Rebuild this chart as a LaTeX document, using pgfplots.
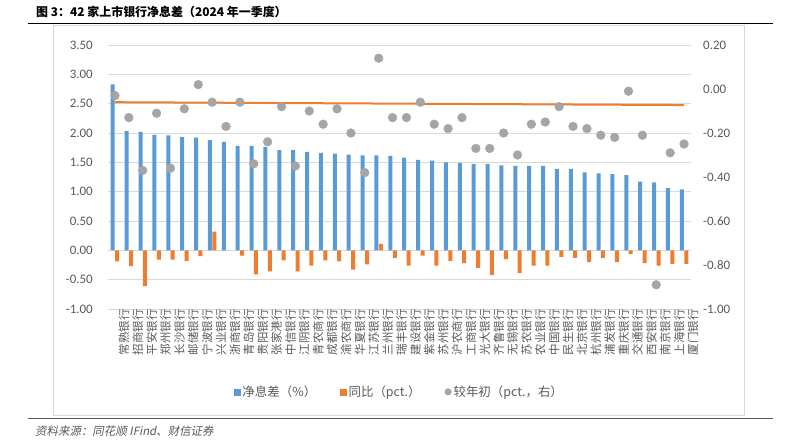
\documentclass[border=0pt]{standalone}
\usepackage{pgfplots}
\pgfplotsset{compat=1.18}
\usepackage{fontspec}
\setmainfont{Carlito}
\newfontfamily\cjk{Noto Sans CJK SC}
\newfontfamily\cjkit{Noto Sans CJK SC}[FakeSlant=0.2]
\definecolor{cblue}{HTML}{5B9BD5}
\definecolor{corange}{HTML}{ED7D31}
\definecolor{cgray}{HTML}{A5A5A5}
\definecolor{cgrid}{HTML}{D9D9D9}
\definecolor{ctext}{HTML}{595959}
\pgfplotsset{numfmt/.style={/pgf/number format/fixed, /pgf/number format/fixed zerofill, /pgf/number format/precision=2, /pgf/number format/assume math mode=true}}
\begin{document}
\begin{tikzpicture}
\useasboundingbox (0,0) rectangle (787bp,-445bp);
\node[anchor=west, inner sep=0pt, font=\cjk\bfseries\fontsize{12}{12}\selectfont] at (36bp,-12bp) {图 3：42 家上市银行净息差（2024 年一季度）};
\draw[black, line width=0.9bp] (28bp,-23.3bp) -- (773bp,-23.3bp);
\draw[cgrid, line width=0.75bp] (53bp,-25bp) rectangle (744bp,-415bp);
\draw[ctext, line width=1.3bp] (28bp,-418.5bp) -- (773bp,-418.5bp);
\node[anchor=west, inner sep=0pt, text=ctext, font=\cjkit\fontsize{11.5}{11.5}\selectfont] at (35bp,-431bp) {资料来源：同花顺 IFind、财信证券};

\begin{axis}[
  at={(108bp,-309bp)}, anchor=south west,
  width=583bp, height=264bp, scale only axis,
  xmin=-0.5, xmax=41.5, ymin=-1, ymax=3.5,
  ytick={-1,-0.5,0,0.5,1,1.5,2,2.5,3,3.5},
  axis line style={draw=none}, major tick length=0pt,
  ymajorgrids, grid style={cgrid, line width=0.75bp},
  yticklabel style={numfmt, anchor=east, inner sep=0pt, xshift=-15bp, text=ctext, font=\fontsize{13}{13}\selectfont},
  xtick={0,...,41},
  xticklabels={常熟银行,招商银行,平安银行,郑州银行,长沙银行,邮储银行,宁波银行,兴业银行,浙商银行,青岛银行,贵阳银行,张家港行,中信银行,江阴银行,青农商行,成都银行,渝农商行,华夏银行,江苏银行,兰州银行,瑞丰银行,建设银行,紫金银行,苏州银行,沪农商行,工商银行,光大银行,齐鲁银行,无锡银行,苏农银行,农业银行,中国银行,民生银行,北京银行,杭州银行,浦发银行,重庆银行,交通银行,西安银行,南京银行,上海银行,厦门银行},
  x tick label style={rotate=90, anchor=east, inner sep=0pt, yshift=-9bp, text=ctext, font=\cjk\fontsize{11.5}{11.5}\selectfont},
]
\addplot[ybar, bar width=4bp, bar shift=-2.2bp, fill=cblue, draw=none] coordinates {
(0,2.83) (1,2.03) (2,2.02) (3,1.97) (4,1.96) (5,1.93) (6,1.92) (7,1.88) (8,1.85) (9,1.78)
(10,1.78) (11,1.76) (12,1.71) (13,1.71) (14,1.68) (15,1.66) (16,1.65) (17,1.63) (18,1.62) (19,1.62)
(20,1.61) (21,1.58) (22,1.54) (23,1.53) (24,1.50) (25,1.49) (26,1.47) (27,1.47) (28,1.45) (29,1.44)
(30,1.44) (31,1.44) (32,1.39) (33,1.39) (34,1.33) (35,1.31) (36,1.30) (37,1.28) (38,1.17) (39,1.16)
(40,1.06) (41,1.04)};
\addplot[ybar, bar width=4bp, bar shift=2.2bp, fill=corange, draw=none] coordinates {
(0,-0.19) (1,-0.27) (2,-0.61) (3,-0.16) (4,-0.16) (5,-0.18) (6,-0.10) (7,0.32) (8,0.00) (9,-0.09)
(10,-0.41) (11,-0.36) (12,-0.17) (13,-0.36) (14,-0.26) (15,-0.17) (16,-0.19) (17,-0.33) (18,-0.24) (19,0.11)
(20,-0.13) (21,-0.26) (22,-0.09) (23,-0.26) (24,-0.18) (25,-0.22) (26,-0.30) (27,-0.42) (28,-0.15) (29,-0.39)
(30,-0.26) (31,-0.26) (32,-0.11) (33,-0.13) (34,-0.20) (35,-0.13) (36,-0.20) (37,-0.06) (38,-0.22) (39,-0.26)
(40,-0.23) (41,-0.23)};
\end{axis}

\begin{axis}[
  at={(108bp,-309bp)}, anchor=south west,
  width=583bp, height=264bp, scale only axis,
  xmin=-0.5, xmax=41.5, ymin=-1, ymax=0.2,
  axis y line*=right, axis x line=none,
  ytick={-1,-0.8,-0.6,-0.4,-0.2,0,0.2},
  axis line style={draw=none}, major tick length=0pt,
  yticklabel style={numfmt, anchor=west, inner sep=0pt, xshift=12bp, text=ctext, font=\fontsize{13}{13}\selectfont},
  legend columns=3,
  legend style={at={(0.5,-0.314)}, anchor=center, draw=none, fill=none, inner sep=0pt,
    font=\cjk\fontsize{12.5}{12.5}\selectfont, text=ctext,
    /tikz/every even column/.append style={column sep=22bp}},
  legend cell align=left,
]
\addlegendimage{legend image code/.code={\fill[cblue] (0bp,-3bp) rectangle (6bp,3bp);}}
\addlegendentry{净息差（\%）}
\addlegendimage{legend image code/.code={\fill[corange] (0bp,-3bp) rectangle (6bp,3bp);}}
\addlegendentry{同比（pct.）}
\addplot[only marks, mark=*, mark size=4.4bp, mark options={fill=cgray, draw=cgray},
  legend image code/.code={\fill[cgray] (3bp,0bp) circle (3.3bp);}] coordinates {
(0,-0.03) (1,-0.13) (2,-0.37) (3,-0.11) (4,-0.36) (5,-0.09) (6,0.02) (7,-0.06) (8,-0.17) (9,-0.06)
(10,-0.34) (11,-0.24) (12,-0.08) (13,-0.35) (14,-0.10) (15,-0.16) (16,-0.09) (17,-0.20) (18,-0.38) (19,0.14)
(20,-0.13) (21,-0.13) (22,-0.06) (23,-0.16) (24,-0.18) (25,-0.13) (26,-0.27) (27,-0.27) (28,-0.20) (29,-0.30)
(30,-0.16) (31,-0.15) (32,-0.08) (33,-0.17) (34,-0.18) (35,-0.21) (36,-0.22) (37,-0.01) (38,-0.21) (39,-0.89)
(40,-0.29) (41,-0.25)};
\addlegendentry{较年初（pct.，右）}
\addplot[corange, line width=2bp, forget plot] coordinates {(0,-0.06) (41,-0.073)};
\end{axis}
\end{tikzpicture}
\end{document}
